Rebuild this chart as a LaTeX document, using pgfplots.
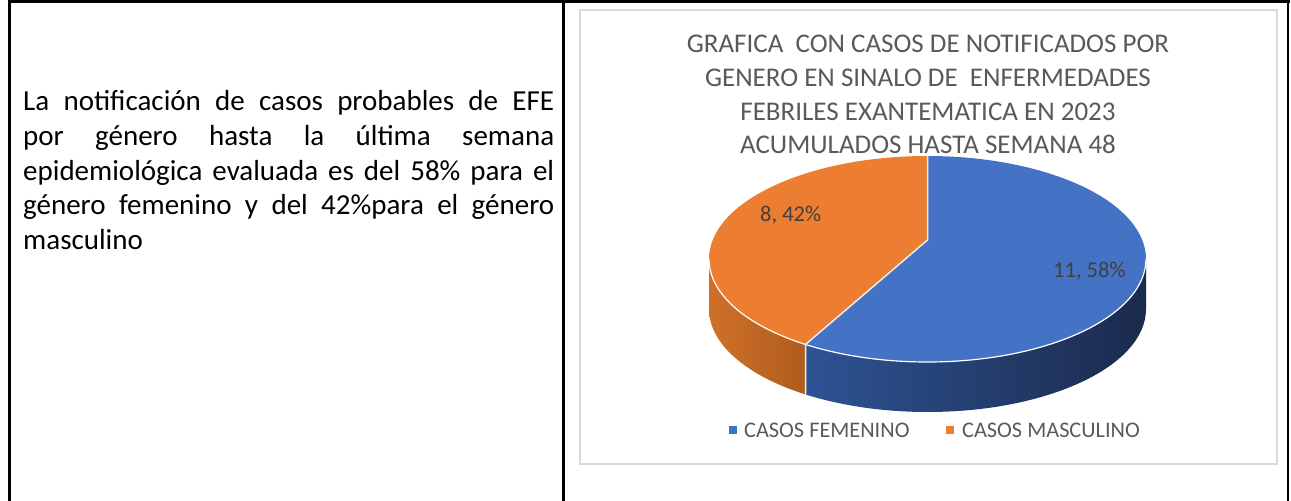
\documentclass[border=0pt]{standalone}
\usepackage{pgfplots}
\pgfplotsset{compat=1.18}
\usepackage{pgfplotstable}
\usepackage{fontspec}
\setmainfont{Carlito}
\definecolor{fem}{RGB}{68,114,196}
\definecolor{mas}{RGB}{237,125,49}
\definecolor{titlegray}{RGB}{89,89,89}
\definecolor{labgray}{RGB}{64,64,64}
\definecolor{boxgray}{RGB}{217,217,217}
\definecolor{femsideL}{RGB}{46,83,148}
\definecolor{femsideR}{RGB}{27,42,76}
\definecolor{massideL}{RGB}{208,112,42}
\definecolor{massideR}{RGB}{176,92,30}

\pgfplotstableread{
genero casos
Femenino 11
Masculino 8
}\piedata

\begin{document}
\begin{tikzpicture}
\pgfplotstablegetelem{0}{casos}\of\piedata \let\vF\pgfplotsretval
\pgfplotstablegetelem{1}{casos}\of\piedata \let\vM\pgfplotsretval
\pgfmathsetmacro{\total}{\vF+\vM}
% true angle of the slice boundary (slices start at 12 o'clock)
\pgfmathsetmacro{\angT}{90+360*\vM/\total}
% perspective: the pie centre is seen at the apex, above the ellipse centre
\def\kk{0.1845}
\pgfmathsetmacro{\px}{cos(\angT)*sqrt(1-\kk*\kk)/(1+\kk*sin(\angT))}
\pgfmathsetmacro{\py}{(sin(\angT)+\kk)/(1+\kk*sin(\angT))}
\pgfmathsetmacro{\angB}{atan2(\py,\px)}
\pgfmathsetmacro{\angB}{\angB<90 ? \angB+360 : \angB}
\pgfmathtruncatemacro{\pF}{round(100*\vF/\total)}
\pgfmathtruncatemacro{\pM}{round(100*\vM/\total)}
% pie geometry (picture units = bp)
\def\cx{927.5}\def\cy{242}\def\ra{218.5}\def\rb{103}\def\dep{50}
\def\apx{927.5}\def\apy{261}
\pgfmathsetmacro{\bx}{\cx+\ra*cos(\angB)}
\pgfmathsetmacro{\by}{\cy+\rb*sin(\angB)}
\useasboundingbox (0,0) rectangle (1291bp,501bp);
\begin{axis}[x=1bp,y=1bp,xmin=0,xmax=1291,ymin=0,ymax=501,
  hide axis,clip=false,at={(0,0)},anchor=south west]
% table frame
\draw[line width=3bp] (axis cs:8.5,499.5) -- (axis cs:1289.5,499.5);
\draw[line width=2.5bp] (axis cs:9.5,501) -- (axis cs:9.5,0);
\draw[line width=2.5bp] (axis cs:563.5,501) -- (axis cs:563.5,0);
\draw[line width=2.5bp] (axis cs:1288,501) -- (axis cs:1288,0);
% left text
\begingroup
\def\tl#1#2{\node[anchor=base west,inner sep=0,font=\fontsize{29bp}{34bp}\selectfont] at (axis cs:23,#1) {#2};}
\tl{390}{\makebox[531bp][s]{La notificación de casos probables de EFE}}
\tl{355.5}{\makebox[531bp][s]{por género hasta la última semana}}
\tl{321}{\makebox[531bp][s]{epidemiológica evaluada es del 58\% para el}}
\tl{286.5}{\makebox[531bp][s]{género femenino y del 42\%para el género}}
\tl{252}{masculino}
\endgroup
% chart box
\draw[boxgray,line width=1.5bp] (axis cs:580,491) rectangle (axis cs:1277,37);
% title
\begingroup
\def\ttl#1#2{\node[anchor=base,inner sep=0,text=titlegray,font=\fontsize{27bp}{32bp}\selectfont] at (axis cs:928,#1) {#2};}
\ttl{448}{GRAFICA\ \ CON CASOS DE NOTIFICADOS POR}
\ttl{414}{GENERO EN SINALO DE\ \ ENFERMEDADES}
\ttl{381}{FEBRILES EXANTEMATICA EN 2023}
\ttl{348}{ACUMULADOS HASTA SEMANA 48}
\endgroup
% side faces
\shade[left color=massideL,right color=massideR]
  (axis cs:\cx-\ra,\cy) arc[start angle=180,end angle=\angB,x radius=\ra bp,y radius=\rb bp]
  -- ++(0,-\dep bp) arc[start angle=\angB,end angle=180,x radius=\ra bp,y radius=\rb bp] -- cycle;
\shade[left color=femsideL,right color=femsideR]
  (axis cs:\bx,\by) arc[start angle=\angB,end angle=360,x radius=\ra bp,y radius=\rb bp]
  -- ++(0,-\dep bp) arc[start angle=360,end angle=\angB,x radius=\ra bp,y radius=\rb bp] -- cycle;
% top faces
\fill[mas] (axis cs:\apx,\apy) -- (axis cs:\cx,\cy+\rb)
  arc[start angle=90,end angle=\angB,x radius=\ra bp,y radius=\rb bp] -- cycle;
\fill[fem] (axis cs:\apx,\apy) -- (axis cs:\bx,\by)
  arc[start angle=\angB,end angle=450,x radius=\ra bp,y radius=\rb bp] -- cycle;
% white edges
\draw[white,line width=1.2bp] (axis cs:\cx-\ra,\cy) arc[start angle=180,end angle=360,x radius=\ra bp,y radius=\rb bp];
\draw[white!85!gray,line width=1.5bp] (axis cs:\cx,\cy+\rb) -- (axis cs:\apx,\apy) -- (axis cs:\bx,\by) -- ++(0,-\dep bp);
% data labels
\node[anchor=base west,inner sep=0,text=labgray,font=\fontsize{22.5bp}{27bp}\selectfont] at (axis cs:760,279.3) {\vM, \pM\%};
\node[anchor=base west,inner sep=0,text=labgray,font=\fontsize{22.5bp}{27bp}\selectfont] at (axis cs:1053,224) {\vF, \pF\%};
% legend
\fill[fem] (axis cs:729,67) rectangle (axis cs:737,74.5);
\node[anchor=base west,inner sep=0,text=titlegray,font=\fontsize{22.3bp}{27bp}\selectfont] at (axis cs:744,64) {CASOS FEMENINO};
\fill[mas] (axis cs:946,67) rectangle (axis cs:954,74.5);
\node[anchor=base west,inner sep=0,text=titlegray,font=\fontsize{22.3bp}{27bp}\selectfont] at (axis cs:962,64) {CASOS MASCULINO};
\end{axis}
\end{tikzpicture}
\end{document}
